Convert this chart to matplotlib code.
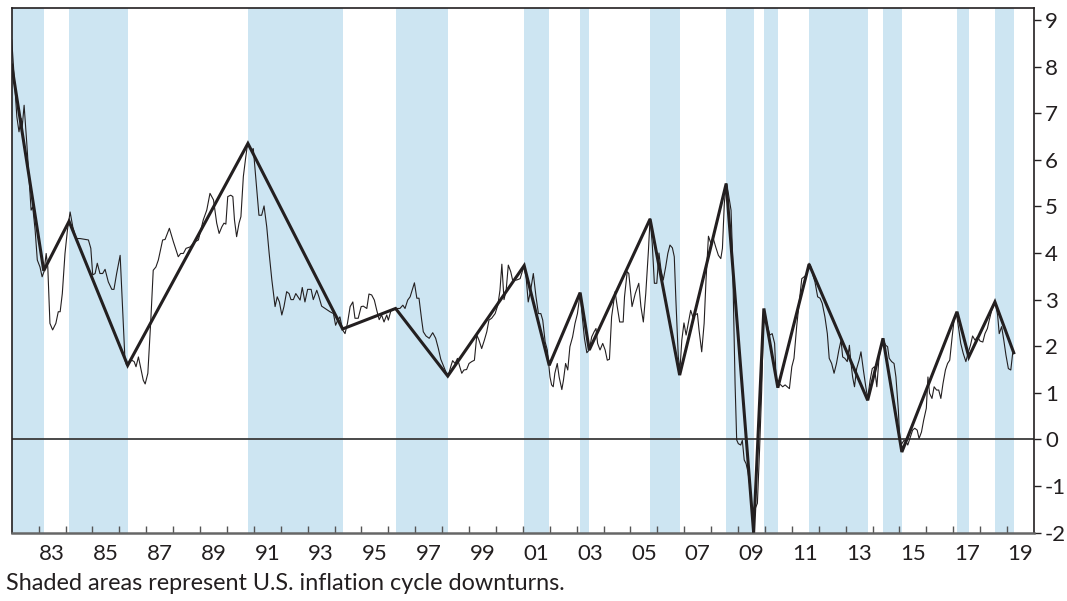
import matplotlib.pyplot as plt
import numpy as np

# downturn periods (peak -> trough), decimal years
shade_start = [1982.0, 1984.13, 1990.78, 1996.27, 2001.05, 2003.13, 2005.73,
               2008.56, 2009.96, 2011.64, 2014.39, 2017.14, 2018.55]
shade_end = [1983.19, 1986.31, 1994.30, 1998.21, 2001.98, 2003.47, 2006.83,
             2009.58, 2010.48, 2013.82, 2015.09, 2017.58, 2019.25]

# cycle line: peaks and troughs
cycle_x = [1982.0, 1983.19, 1984.13, 1986.31, 1990.78, 1994.30, 1996.27, 1998.21,
           2001.05, 2001.98, 2003.13, 2003.47, 2005.73, 2006.83, 2008.56, 2009.58,
           2009.96, 2010.48, 2011.64, 2013.82, 2014.39, 2015.09, 2017.14, 2017.58,
           2018.55, 2019.25]
cycle_y = [8.03, 3.62, 4.68, 1.59, 6.35, 2.37, 2.81, 1.36,
           3.73, 1.59, 3.15, 1.92, 4.73, 1.38, 5.49, -2.0,
           2.81, 1.11, 3.76, 0.84, 2.17, -0.27, 2.74, 1.77,
           2.95, 1.86]

# inflation (y/y %)
cpi_x = [1982.0, 1982.19, 1982.27, 1982.35, 1982.39, 1982.46, 1982.56, 1982.72, 1982.78, 1982.87,
         1982.95, 1983.05, 1983.13, 1983.2, 1983.28, 1983.34, 1983.42, 1983.52, 1983.64, 1983.73,
         1983.8, 1983.88, 1983.98, 1984.07, 1984.17, 1984.27, 1984.39, 1984.54, 1984.85, 1984.94,
         1985.01, 1985.1, 1985.18, 1985.28, 1985.38, 1985.47, 1985.59, 1985.72, 1985.8, 1985.9,
         1986.03, 1986.21, 1986.27, 1986.46, 1986.55, 1986.62, 1986.71, 1986.81, 1986.89, 1986.96,
         1987.06, 1987.17, 1987.26, 1987.36, 1987.45, 1987.61, 1987.7, 1987.86, 1988.01, 1988.11,
         1988.19, 1988.28, 1988.38, 1988.48, 1988.63, 1988.81, 1988.94, 1989.12, 1989.25, 1989.37,
         1989.5, 1989.62, 1989.71, 1989.81, 1989.89, 1989.96, 1990.03, 1990.14, 1990.22, 1990.28,
         1990.36, 1990.45, 1990.52, 1990.61, 1990.7, 1990.77, 1990.92, 1990.98, 1991.11, 1991.19,
         1991.29, 1991.38, 1991.48, 1991.57, 1991.67, 1991.79, 1991.87, 1991.95, 1992.04, 1992.12,
         1992.22, 1992.31, 1992.38, 1992.47, 1992.56, 1992.65, 1992.72, 1992.8, 1992.9, 1993.0,
         1993.13, 1993.21, 1993.34, 1993.42, 1993.52, 1993.65, 1993.83, 1993.96, 1994.04, 1994.12,
         1994.2, 1994.3, 1994.39, 1994.48, 1994.58, 1994.68, 1994.76, 1994.88, 1994.99, 1995.07,
         1995.2, 1995.28, 1995.38, 1995.48, 1995.57, 1995.66, 1995.75, 1995.84, 1995.94, 1996.0,
         1996.1, 1996.25, 1996.43, 1996.54, 1996.62, 1996.72, 1996.81, 1996.97, 1997.06, 1997.14,
         1997.24, 1997.3, 1997.4, 1997.52, 1997.65, 1997.76, 1997.86, 1997.95, 1998.04, 1998.14,
         1998.23, 1998.32, 1998.39, 1998.48, 1998.57, 1998.64, 1998.73, 1998.81, 1998.91, 1999.0,
         1999.1, 1999.2, 1999.29, 1999.37, 1999.47, 1999.57, 1999.66, 1999.74, 1999.84, 1999.97,
         2000.07, 2000.15, 2000.22, 2000.3, 2000.38, 2000.46, 2000.55, 2000.62, 2000.77, 2000.9,
         2001.04, 2001.12, 2001.2, 2001.29, 2001.39, 2001.49, 2001.58, 2001.67, 2001.74, 2001.83,
         2001.91, 2002.01, 2002.07, 2002.13, 2002.19, 2002.28, 2002.35, 2002.45, 2002.51, 2002.59,
         2002.67, 2002.75, 2002.85, 2002.94, 2003.03, 2003.13, 2003.21, 2003.29, 2003.38, 2003.47,
         2003.56, 2003.65, 2003.72, 2003.78, 2003.87, 2003.97, 2004.06, 2004.14, 2004.22, 2004.3,
         2004.43, 2004.51, 2004.6, 2004.73, 2004.78, 2004.88, 2004.94, 2005.06, 2005.18, 2005.31,
         2005.39, 2005.48, 2005.57, 2005.67, 2005.73, 2005.81, 2005.89, 2005.98, 2006.06, 2006.14,
         2006.22, 2006.31, 2006.39, 2006.47, 2006.56, 2006.63, 2006.69, 2006.78, 2006.84, 2006.91,
         2006.99, 2007.07, 2007.15, 2007.24, 2007.32, 2007.4, 2007.49, 2007.55, 2007.65, 2007.74,
         2007.81, 2007.9, 2007.99, 2008.08, 2008.17, 2008.27, 2008.36, 2008.42, 2008.49, 2008.56,
         2008.64, 2008.74, 2008.79, 2008.89, 2008.95, 2009.01, 2009.1, 2009.16, 2009.23, 2009.3,
         2009.37, 2009.46, 2009.54, 2009.57, 2009.64, 2009.72, 2009.8, 2009.88, 2009.94, 2010.0,
         2010.1, 2010.18, 2010.27, 2010.36, 2010.42, 2010.5, 2010.59, 2010.66, 2010.75, 2010.83,
         2010.91, 2011.0, 2011.08, 2011.18, 2011.27, 2011.37, 2011.46, 2011.55, 2011.64, 2011.71,
         2011.8, 2011.86, 2011.96, 2012.05, 2012.13, 2012.23, 2012.32, 2012.39, 2012.48, 2012.57,
         2012.66, 2012.75, 2012.83, 2012.89, 2012.97, 2013.06, 2013.14, 2013.2, 2013.26, 2013.33,
         2013.41, 2013.5, 2013.57, 2013.66, 2013.75, 2013.82, 2013.91, 2013.99, 2014.07, 2014.16,
         2014.24, 2014.32, 2014.4, 2014.49, 2014.56, 2014.62, 2014.71, 2014.8, 2014.87, 2014.96,
         2015.02, 2015.09, 2015.17, 2015.25, 2015.31, 2015.39, 2015.49, 2015.57, 2015.66, 2015.73,
         2015.82, 2015.9, 2016.0, 2016.06, 2016.12, 2016.21, 2016.29, 2016.38, 2016.46, 2016.54,
         2016.62, 2016.71, 2016.79, 2016.87, 2016.96, 2017.03, 2017.12, 2017.21, 2017.28, 2017.37,
         2017.47, 2017.55, 2017.64, 2017.72, 2017.81, 2017.9, 2018.0, 2018.1, 2018.18, 2018.27,
         2018.34, 2018.43, 2018.49, 2018.58, 2018.65, 2018.71, 2018.8, 2018.88, 2018.96, 2019.05,
         2019.14, 2019.21]
cpi_y = [8.57, 6.92, 6.60, 6.89, 6.71, 7.17, 6.35, 4.92, 4.99, 4.49,
         3.85, 3.70, 3.49, 3.60, 3.99, 3.70, 2.49, 2.35, 2.49, 2.74,
         2.74, 3.13, 3.99, 4.49, 4.88, 4.56, 4.31, 4.31, 4.28, 4.10,
         3.53, 3.56, 3.78, 3.56, 3.56, 3.65, 3.38, 3.22, 3.22, 3.56,
         3.95, 1.70, 1.59, 1.70, 1.67, 1.56, 1.77, 1.49, 1.27, 1.19,
         1.42, 2.56, 3.63, 3.70, 3.85, 4.28, 4.29, 4.53, 4.24, 4.06,
         3.92, 3.99, 3.99, 4.10, 4.13, 4.24, 4.28, 4.71, 4.92, 5.28,
         5.14, 4.64, 4.42, 4.56, 4.64, 4.62, 5.21, 5.24, 5.21, 4.71,
         4.35, 4.64, 4.78, 5.64, 6.06, 6.35, 6.21, 6.24, 5.35, 4.81,
         4.81, 5.01, 4.56, 3.99, 3.42, 2.85, 3.06, 2.95, 2.67, 2.85,
         3.17, 3.13, 3.00, 3.00, 3.13, 3.05, 2.99, 3.26, 2.95, 3.22,
         3.22, 3.00, 3.20, 3.06, 2.86, 2.81, 2.74, 2.70, 2.45, 2.56,
         2.63, 2.35, 2.27, 2.49, 2.85, 2.95, 2.60, 2.60, 2.85, 2.86,
         2.81, 3.12, 3.10, 2.99, 2.77, 2.57, 2.67, 2.52, 2.67, 2.56,
         2.77, 2.81, 2.81, 2.88, 2.81, 2.99, 3.06, 3.36, 3.03, 3.03,
         2.56, 2.31, 2.22, 2.17, 2.29, 2.17, 1.95, 1.72, 1.59, 1.45,
         1.38, 1.56, 1.69, 1.63, 1.74, 1.59, 1.42, 1.49, 1.50, 1.63,
         1.67, 1.70, 2.24, 2.13, 1.95, 2.13, 2.31, 2.56, 2.60, 2.70,
         2.88, 3.20, 3.76, 3.00, 3.20, 3.74, 3.60, 3.42, 3.42, 3.45,
         3.72, 3.49, 2.95, 3.20, 3.56, 3.06, 2.70, 2.70, 2.56, 2.09,
         1.92, 1.34, 1.17, 1.13, 1.42, 1.63, 1.34, 1.07, 1.27, 1.63,
         1.49, 1.99, 2.20, 2.49, 2.70, 3.13, 2.63, 2.17, 1.86, 1.92,
         2.20, 2.31, 2.38, 2.06, 1.92, 2.06, 1.92, 1.70, 1.72, 2.63,
         3.17, 2.85, 2.52, 2.52, 3.06, 3.60, 3.56, 2.85, 3.13, 3.35,
         2.85, 2.52, 3.13, 4.06, 4.74, 4.21, 3.35, 3.35, 4.00, 3.63,
         3.42, 3.70, 3.99, 4.17, 4.11, 3.92, 2.99, 1.77, 1.49, 2.13,
         2.50, 2.24, 2.49, 2.77, 2.63, 2.67, 2.70, 2.35, 1.88, 2.49,
         3.42, 4.36, 4.21, 4.31, 4.13, 3.95, 3.88, 4.10, 5.06, 5.49,
         5.28, 4.92, 4.06, 1.20, -0.01, -0.09, -0.12, -0.02, -0.44, -0.52,
         -0.70, -1.09, -1.66, -1.95, -1.48, -1.37, -0.23, 1.06, 2.42, 2.70,
         2.42, 2.24, 2.27, 2.06, 1.27, 1.20, 1.17, 1.13, 1.17, 1.13,
         1.09, 1.56, 1.74, 2.42, 2.92, 3.45, 3.49, 3.53, 3.78, 3.70,
         3.49, 3.38, 3.06, 3.03, 2.92, 2.63, 2.27, 1.74, 1.63, 1.42,
         1.63, 1.92, 2.13, 1.77, 1.74, 1.67, 2.02, 1.63, 1.34, 1.13,
         1.52, 1.70, 1.88, 1.49, 1.13, 0.88, 1.27, 1.52, 1.56, 1.13,
         1.74, 2.02, 2.13, 2.02, 1.99, 1.74, 1.67, 1.63, 1.34, 0.63,
         -0.09, -0.09, -0.02, -0.05, -0.12, 0.02, 0.20, 0.24, 0.20, 0.02,
         0.16, 0.41, 0.67, 1.34, 0.99, 0.88, 1.13, 1.06, 1.06, 0.88,
         1.20, 1.49, 1.63, 1.70, 2.20, 2.56, 2.70, 2.35, 2.06, 1.85,
         1.67, 1.85, 2.02, 2.22, 2.13, 2.20, 2.11, 2.09, 2.27, 2.38,
         2.56, 2.77, 2.88, 2.88, 2.67, 2.27, 2.42, 2.13, 1.81, 1.52,
         1.49, 1.85]

year_labels = ["83", "85", "87", "89", "91", "93", "95", "97", "99",
               "01", "03", "05", "07", "09", "11", "13", "15", "17", "19"]

plt.rcParams["font.family"] = ["Lato", "DejaVu Sans"]
plt.rcParams["axes.unicode_minus"] = False
ink = "#231f20"

fig = plt.figure(figsize=(10.67, 6.01), dpi=100)
ax = fig.add_axes([0.011, 0.1137, 0.958, 0.8725])

for s, e in zip(shade_start, shade_end):
    ax.axvspan(s, e, color="#cde5f2", lw=0, zorder=0)

ax.axhline(0, color="#3a3a3a", lw=1.3, zorder=1)
ax.plot(cpi_x, cpi_y, color=ink, lw=0.8, zorder=2)
ax.plot(cycle_x, cycle_y, color=ink, lw=2.2, zorder=3, solid_joinstyle="miter")

ax.set_xlim(1982.0, 2020.0)
ax.set_ylim(-2, 9.25)

# y axis on the right
ax.yaxis.tick_right()
ax.set_yticks(range(-2, 10))
ax.tick_params(axis="y", direction="out", length=5, width=1, color=ink,
               labelsize=16, pad=3, labelcolor=ink)

# x: year-boundary ticks, labels centred on odd years
ax.set_xticks(np.arange(1983, 2020))
ax.set_xticklabels([])
ax.tick_params(axis="x", which="major", direction="in", length=5, width=1, color="#555555")
ax.set_xticks(np.arange(1983.5, 2020, 2), minor=True)
ax.set_xticklabels(year_labels, minor=True)
ax.tick_params(axis="x", which="minor", length=0, labelsize=16, pad=8, labelcolor=ink)

for side in ["top", "left", "right"]:
    ax.spines[side].set_color(ink)
    ax.spines[side].set_linewidth(1.2)
ax.spines["bottom"].set_color("#666666")
ax.spines["bottom"].set_linewidth(1.8)

fig.text(0.006, 0.029, "Shaded areas represent U.S. inflation cycle downturns.",
         fontsize=16.8, color=ink, ha="left", va="center")

fig.savefig("out.png", dpi=100)
